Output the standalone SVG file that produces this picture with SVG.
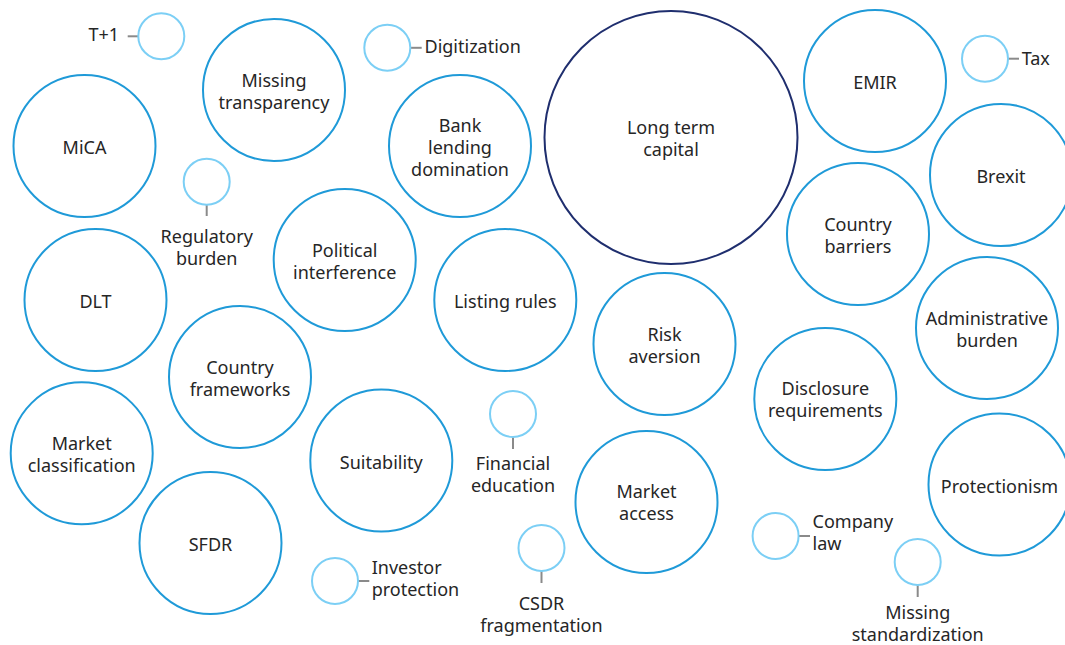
<svg xmlns="http://www.w3.org/2000/svg" width="1065" height="645" viewBox="0 0 1065 645">
<style>
.big{fill:#fff;stroke:#1f9ad8;stroke-width:2}
.main{fill:#fff;stroke:#1f2e6e;stroke-width:2}
.small{fill:#fff;stroke:#7ccff5;stroke-width:2}
.con{stroke:#8a8a8a;stroke-width:2;fill:none}
text{font-family:"Noto Sans","Open Sans","Liberation Sans",sans-serif;font-size:18px;fill:#262626}
.c{text-anchor:middle}
.e{text-anchor:end}
</style>
<rect width="1065" height="645" fill="#fff"/>
<g id="connectors">
<line class="con" x1="127.7" y1="36.3" x2="138.3" y2="36.3"/>
<line class="con" x1="410.6" y1="47.8" x2="421.7" y2="47.8"/>
<line class="con" x1="1008" y1="58.7" x2="1019" y2="58.7"/>
<line class="con" x1="206.7" y1="204.7" x2="206.7" y2="216"/>
<line class="con" x1="513" y1="437" x2="513" y2="449"/>
<line class="con" x1="358" y1="581" x2="369.3" y2="581"/>
<line class="con" x1="541.5" y1="571" x2="541.5" y2="583"/>
<line class="con" x1="798.6" y1="536" x2="810" y2="536"/>
<line class="con" x1="917.7" y1="585" x2="917.7" y2="597"/>
</g>
<g id="mica"><circle class="big" cx="84.5" cy="146" r="71"/><text class="c" x="84.5" y="154">MiCA</text></g>
<g id="missing-transparency"><circle class="big" cx="274" cy="90" r="71"/><text class="c" x="274" y="87">Missing</text><text class="c" x="274" y="109">transparency</text></g>
<g id="bank-lending"><circle class="big" cx="460" cy="146" r="71"/><text class="c" x="460" y="131.5">Bank</text><text class="c" x="460" y="153.5">lending</text><text class="c" x="460" y="175.5">domination</text></g>
<g id="long-term-capital"><circle class="main" cx="671" cy="137.5" r="126.5"/><text class="c" x="671" y="134">Long term</text><text class="c" x="671" y="156">capital</text></g>
<g id="emir"><circle class="big" cx="875" cy="81" r="71"/><text class="c" x="875" y="89">EMIR</text></g>
<g id="brexit"><circle class="big" cx="1001" cy="175" r="71"/><text class="c" x="1001" y="183">Brexit</text></g>
<g id="dlt"><circle class="big" cx="95.5" cy="300" r="71"/><text class="c" x="95.5" y="308">DLT</text></g>
<g id="political-interference"><circle class="big" cx="344.7" cy="260" r="71"/><text class="c" x="344.7" y="257">Political</text><text class="c" x="344.7" y="279">interference</text></g>
<g id="listing-rules"><circle class="big" cx="505.3" cy="300" r="71"/><text class="c" x="505.3" y="308">Listing rules</text></g>
<g id="country-barriers"><circle class="big" cx="858" cy="234" r="71"/><text class="c" x="858" y="231">Country</text><text class="c" x="858" y="253">barriers</text></g>
<g id="administrative-burden"><circle class="big" cx="987" cy="328" r="71"/><text class="c" x="987" y="325">Administrative</text><text class="c" x="987" y="347">burden</text></g>
<g id="country-frameworks"><circle class="big" cx="240" cy="377" r="71"/><text class="c" x="240" y="374">Country</text><text class="c" x="240" y="396">frameworks</text></g>
<g id="risk-aversion"><circle class="big" cx="664.5" cy="344" r="71"/><text class="c" x="664.5" y="340.5">Risk</text><text class="c" x="664.5" y="362.5">aversion</text></g>
<g id="disclosure-requirements"><circle class="big" cx="825.3" cy="399" r="71"/><text class="c" x="825.3" y="395">Disclosure</text><text class="c" x="825.3" y="417">requirements</text></g>
<g id="market-classification"><circle class="big" cx="81.7" cy="453.3" r="71"/><text class="c" x="81.7" y="450">Market</text><text class="c" x="81.7" y="472">classification</text></g>
<g id="suitability"><circle class="big" cx="381.3" cy="460.5" r="71"/><text class="c" x="381.3" y="468.5">Suitability</text></g>
<g id="market-access"><circle class="big" cx="646.5" cy="502" r="71"/><text class="c" x="646.5" y="498">Market</text><text class="c" x="646.5" y="520">access</text></g>
<g id="protectionism"><circle class="big" cx="999.5" cy="484.5" r="71"/><text class="c" x="999.5" y="492.5">Protectionism</text></g>
<g id="sfdr"><circle class="big" cx="210.5" cy="543" r="71"/><text class="c" x="210.5" y="551">SFDR</text></g>
<g id="t-plus-1"><circle class="small" cx="161.3" cy="36.3" r="23"/><text class="e" x="119" y="40.5">T+1</text></g>
<g id="digitization"><circle class="small" cx="387.3" cy="47.8" r="23"/><text x="424.5" y="52.5">Digitization</text></g>
<g id="tax"><circle class="small" cx="985" cy="58.7" r="23"/><text x="1021.7" y="65">Tax</text></g>
<g id="regulatory-burden"><circle class="small" cx="206.7" cy="181.7" r="23"/><text class="c" x="206.7" y="243">Regulatory</text><text class="c" x="206.7" y="265">burden</text></g>
<g id="financial-education"><circle class="small" cx="513" cy="414" r="23"/><text class="c" x="513" y="469.5">Financial</text><text class="c" x="513" y="491.5">education</text></g>
<g id="investor-protection"><circle class="small" cx="335" cy="581" r="23"/><text x="371.7" y="574">Investor</text><text x="371.7" y="596">protection</text></g>
<g id="csdr-fragmentation"><circle class="small" cx="541.5" cy="548" r="23"/><text class="c" x="541.5" y="609.5">CSDR</text><text class="c" x="541.5" y="631.5">fragmentation</text></g>
<g id="company-law"><circle class="small" cx="775.6" cy="536" r="23"/><text x="812.6" y="527.5">Company</text><text x="812.6" y="549.5">law</text></g>
<g id="missing-standardization"><circle class="small" cx="917.7" cy="562" r="23"/><text class="c" x="917.7" y="619">Missing</text><text class="c" x="917.7" y="641">standardization</text></g>
</svg>
